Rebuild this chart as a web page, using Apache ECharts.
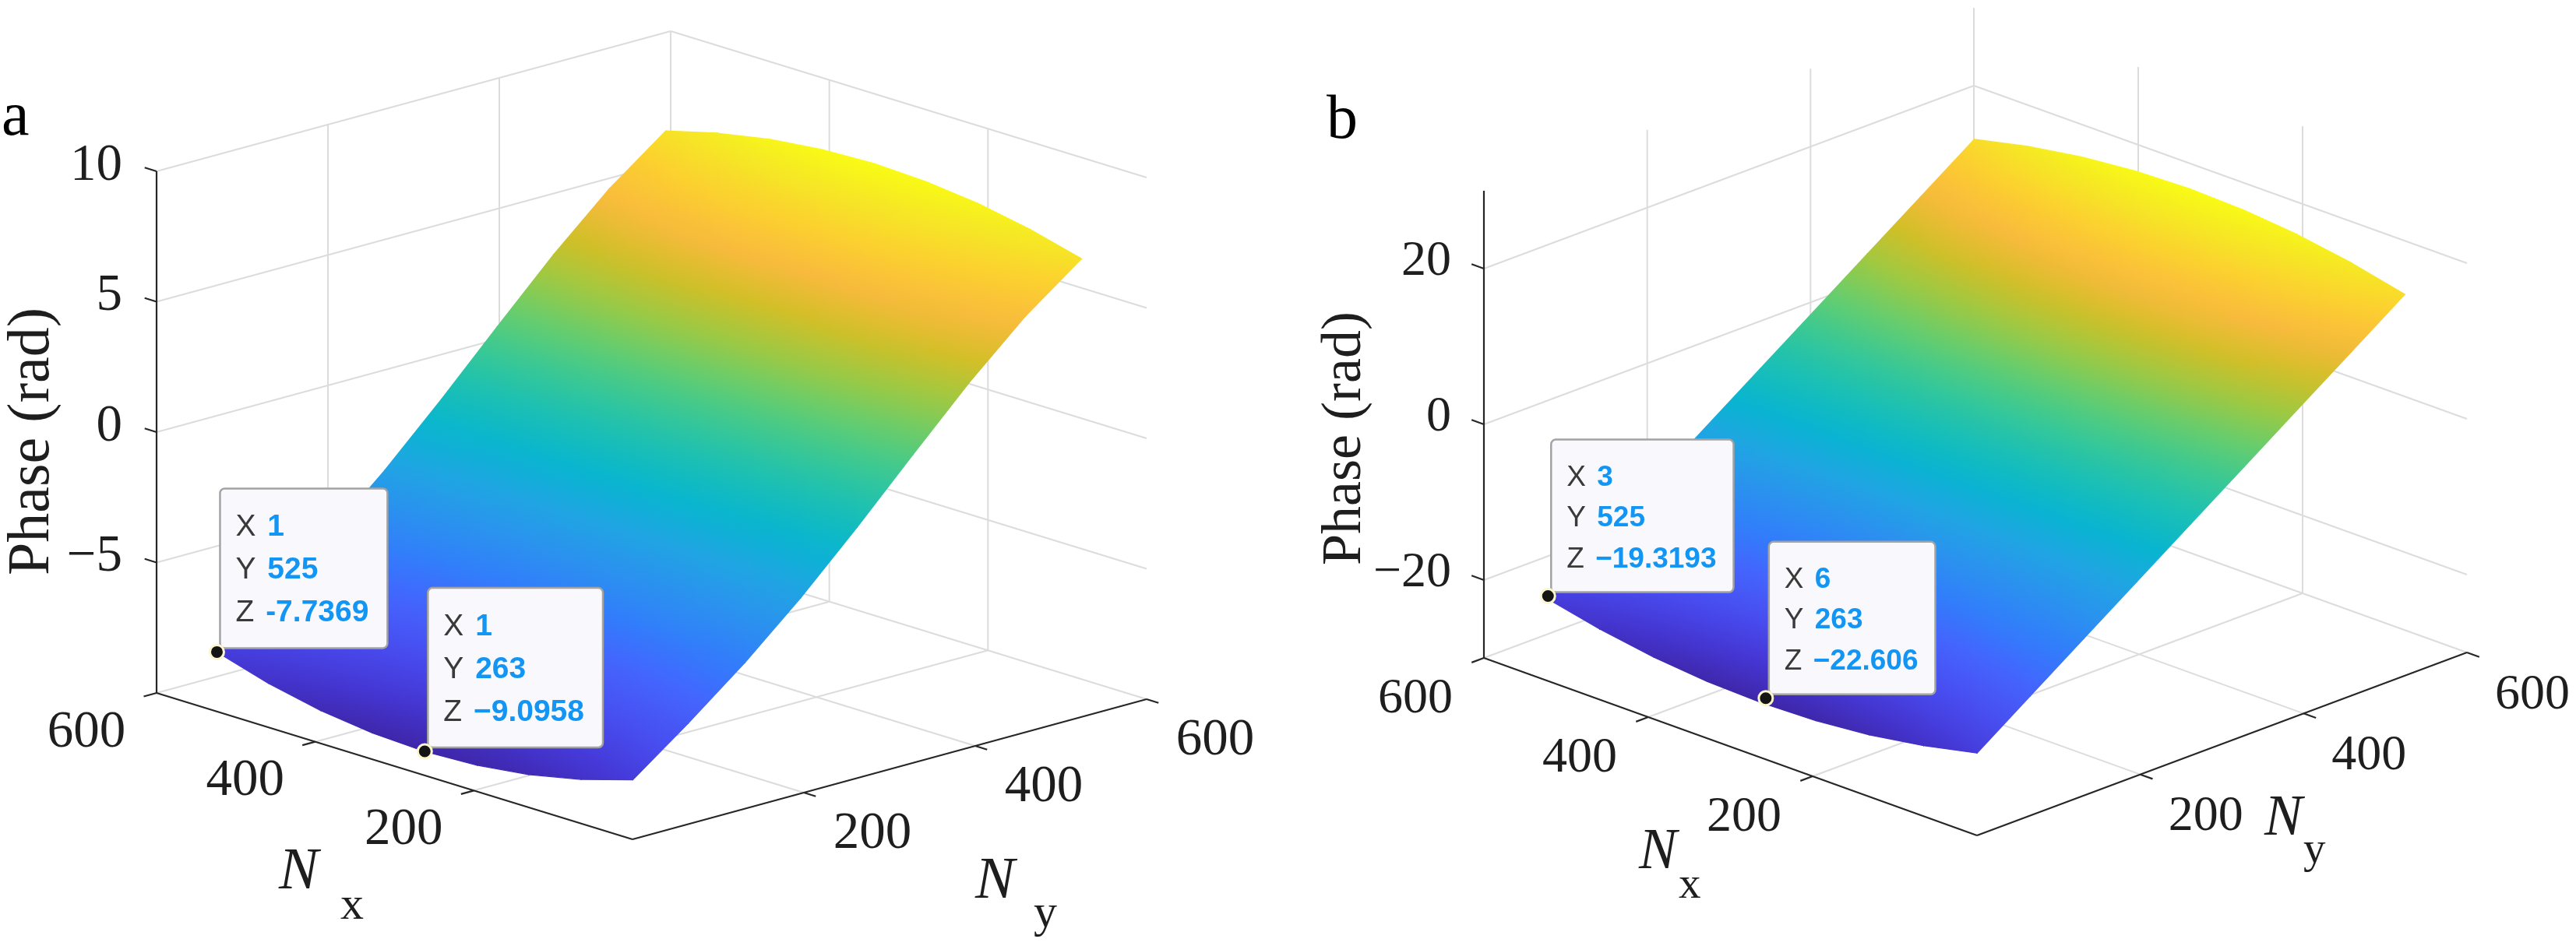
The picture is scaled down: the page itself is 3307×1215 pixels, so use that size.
<!DOCTYPE html>
<html>
<head>
<meta charset="utf-8">
<script src="https://cdn.jsdelivr.net/npm/echarts@6/dist/echarts.min.js"></script>
<style>
html,body{margin:0;padding:0;background:#ffffff;}
#chart{width:3307px;height:1215px;}
</style>
</head>
<body>
<div id="chart"></div>
<script>
// ===================== DATA =====================
// sample positions of the surface grid
const nxGrid = [1, 66, 132, 197, 263, 329, 394, 460, 525];
const nyGrid = [1, 66, 132, 197, 263, 328, 394, 459, 525];
// phase values, row j -> nyGrid[j], column i -> nxGrid[i]
const phaseA = [
  [-7.74, -8.33, -8.76, -9.01, -9.10, -9.01, -8.76, -8.33, -7.74],
  [-6.15, -6.60, -6.93, -7.12, -7.19, -7.12, -6.93, -6.60, -6.15],
  [-4.42, -4.73, -4.96, -5.09, -5.14, -5.09, -4.96, -4.73, -4.42],
  [-2.52, -2.69, -2.82, -2.90, -2.92, -2.90, -2.82, -2.69, -2.52],
  [-0.40, -0.44, -0.46, -0.48, -0.48, -0.48, -0.46, -0.44, -0.40],
  [ 1.80,  1.90,  1.98,  2.03,  2.04,  2.03,  1.98,  1.90,  1.80],
  [ 3.98,  4.22,  4.40,  4.50,  4.54,  4.50,  4.40,  4.22,  3.98],
  [ 5.92,  6.30,  6.58,  6.74,  6.80,  6.74,  6.58,  6.30,  5.92],
  [ 7.55,  8.07,  8.45,  8.67,  8.75,  8.67,  8.45,  8.07,  7.55]
];
const phaseB = [
  [-19.50, -21.02, -22.13, -22.78, -23.00, -22.78, -22.13, -21.02, -19.50],
  [-14.74, -15.88, -16.71, -17.19, -17.36, -17.19, -16.71, -15.88, -14.74],
  [ -9.90, -10.65, -11.20, -11.52, -11.63, -11.52, -11.20, -10.65,  -9.90],
  [ -5.14,  -5.51,  -5.77,  -5.93,  -5.98,  -5.93,  -5.77,  -5.51,  -5.14],
  [ -0.30,  -0.28,  -0.26,  -0.25,  -0.25,  -0.25,  -0.26,  -0.28,  -0.30],
  [  4.46,   4.86,   5.16,   5.33,   5.39,   5.33,   5.16,   4.86,   4.46],
  [  9.30,  10.10,  10.67,  11.01,  11.13,  11.01,  10.67,  10.10,   9.30],
  [ 14.06,  15.24,  16.09,  16.60,  16.77,  16.60,  16.09,  15.24,  14.06],
  [ 18.90,  20.46,  21.60,  22.27,  22.50,  22.27,  21.60,  20.46,  18.90]
];
// tick labels
const nxTicks = [200, 400, 600];
const nyTicks = [200, 400, 600];
const zTicksA = [-5, 0, 5, 10];
const zTicksB = [-20, 0, 20];
// data tips (X = Ny column, Y = Nx row, Z = phase)
const tipXA = [1, 1];
const tipYA = [525, 263];
const tipZA = [-7.7369, -9.0958];
const tipZTextA = ['-7.7369', '\u22129.0958'];
const tipXB = [3, 6];
const tipYB = [525, 263];
const tipZB = [-19.3193, -22.606];
const tipZTextB = ['\u221219.3193', '\u221222.606'];

// parula colormap stops
const parulaStops = ['#3e26a8','#4537d5','#484df0','#4563fd','#327cfc','#2b91ef','#20a5e3','#08b5d0',
  '#19bfb6','#37c897','#64cd6f','#9dc943','#d1bf27','#f8ba3d','#fccf30','#f5e924','#f9fb15'];

// ===================== LAYOUT / STYLE =====================
const SERIF = 'Liberation Serif';
const SANS = 'Liberation Sans';
const GRID_COLOR = '#dcdcdc', GRID_W = 2;
const AXIS_COLOR = '#262626', AXIS_W = 2.2;
const TEXT_COLOR = '#1e1e1e';

// projection: screen vectors (x right, y up) spanned by the full Nx, Ny and z ranges
const panels = [
  {
    letter: 'a', phase: phaseA, zTicks: zTicksA, zLim: [-10, 10], nxLim: [0, 600], nyLim: [0, 600],
    tipX: tipXA, tipY: tipYA, tipZ: tipZA, tipZText: tipZTextA,
    vNx: [-611, 188], vNy: [660, 180], vZ: 670,
    origin: [812, 1078], sxRange: [-800, 900], syRange: [-136, 1075],
    tickFont: 67, zLabOff: [-44, -7], nxLabOff: [-90, 51], nyLabOff: [88, 53],
    nFont: 76, subFont: 60,
    nxName: { n: [-148.5, 162], s: [-69.5, 198] }, nyName: { n: [110, 170], s: [185, 204] },
    phaseFont: 76, phaseOff: [-159, 12],
    letterPos: [2, 179], letterFont: 80,
    tipFont: 39, tipLine: 55, tipTop: 50, tipH: 205, tipPadL: 20, tipPadR: 24, tipGap: 4
  },
  {
    letter: 'b', phase: phaseB, zTicks: zTicksB, zLim: [-30, 30], nxLim: [0, 600], nyLim: [0, 600],
    tipX: tipXB, tipY: tipYB, tipZ: tipZB, tipZText: tipZTextB,
    vNx: [-633, 228], vNy: [629, 235], vZ: 600,
    origin: [2538, 1073], sxRange: [-800, 769], syRange: [-142, 1069],
    tickFont: 64, zLabOff: [-42, -9], nxLabOff: [-88, 53], nyLabOff: [84, 55],
    nFont: 73, subFont: 57,
    nxName: { n: [-117.5, 161], s: [-66.5, 196] }, nyName: { n: [54.5, 121.5], s: [104.5, 154.5] },
    phaseFont: 72, phaseOff: [-178, 18],
    letterPos: [1703, 183], letterFont: 80,
    tipFont: 37, tipLine: 52.5, tipTop: 49, tipH: 196, tipPadL: 20, tipPadR: 22, tipGap: 4
  }
];

// ===================== HELPERS =====================
function hexToRgb(h) { return [parseInt(h.substr(1,2),16), parseInt(h.substr(3,2),16), parseInt(h.substr(5,2),16)]; }
const parulaRgb = parulaStops.map(hexToRgb);
const parulaPos = parulaStops.map((_, k) => k === parulaStops.length - 1 ? 1 : (4 * k) / 63);
function parula(t) {
  t = Math.max(0, Math.min(1, t));
  let k = 0;
  while (k < parulaPos.length - 2 && t > parulaPos[k + 1]) k++;
  const f = (t - parulaPos[k]) / (parulaPos[k + 1] - parulaPos[k]);
  const a = parulaRgb[k], b = parulaRgb[k + 1];
  return 'rgb(' + Math.round(a[0] + (b[0]-a[0])*f) + ',' + Math.round(a[1] + (b[1]-a[1])*f) + ',' + Math.round(a[2] + (b[2]-a[2])*f) + ')';
}
function project(cfg, nx, ny, z) {
  const X = (ny - cfg.nyLim[0]) / (cfg.nyLim[1] - cfg.nyLim[0]);
  const Y = (nx - cfg.nxLim[0]) / (cfg.nxLim[1] - cfg.nxLim[0]);
  const Z = (z - cfg.zLim[0]) / (cfg.zLim[1] - cfg.zLim[0]);
  return [X * cfg.vNy[0] + Y * cfg.vNx[0], X * cfg.vNy[1] + Y * cfg.vNx[1] + Z * cfg.vZ];
}
function fmt(v) { return v < 0 ? '\u2212' + Math.abs(v) : String(v); }
const measureCtx = document.createElement('canvas').getContext('2d');
function textW(str, size, family, weight) {
  measureCtx.font = (weight || 'normal') + ' ' + size + 'px "' + family + '"';
  return measureCtx.measureText(str).width;
}

function triFill(p, zv, cmin, cmax) {
  const norm = v => (v - cmin) / (cmax - cmin);
  const ax = p[1][0]-p[0][0], ay = p[1][1]-p[0][1];
  const bx = p[2][0]-p[0][0], by = p[2][1]-p[0][1];
  const dz1 = zv[1]-zv[0], dz2 = zv[2]-zv[0];
  const det = ax*by - ay*bx;
  const zlo = Math.min(zv[0], zv[1], zv[2]), zhi = Math.max(zv[0], zv[1], zv[2]);
  if (Math.abs(det) < 1e-9 || zhi - zlo < 1e-9) return parula(norm((zlo+zhi)/2));
  const gx = (dz1*by - dz2*ay) / det;
  const gy = (ax*dz2 - bx*dz1) / det;
  const g2 = gx*gx + gy*gy;
  if (g2 < 1e-14) return parula(norm((zlo+zhi)/2));
  const s = (zlo - zv[0]) / g2, e = (zhi - zv[0]) / g2;
  const stops = [0, 0.25, 0.5, 0.75, 1].map(f => ({ offset: f, color: parula(norm(zlo + f*(zhi - zlo))) }));
  return new echarts.graphic.LinearGradient(p[0][0] + gx*s, p[0][1] + gy*s, p[0][0] + gx*e, p[0][1] + gy*e, stops, true);
}

panels.forEach(cfg => {
  let mn = Infinity, mx = -Infinity;
  cfg.phase.forEach(r => r.forEach(v => { mn = Math.min(mn, v); mx = Math.max(mx, v); }));
  cfg.cmin = mn; cfg.cmax = mx;
});

// ===================== RENDERERS =====================
function lineEl(a, b, color, w) {
  return { type: 'line', shape: { x1: a[0], y1: a[1], x2: b[0], y2: b[1] }, style: { stroke: color, lineWidth: w, lineCap: 'butt' } };
}
function textEl(str, x, y, f, align, color) {
  return { type: 'text', style: { text: str, x: x, y: y, fontSize: f.size, fontFamily: f.family,
    fontStyle: f.style || 'normal', fontWeight: f.weight || 'normal', fill: color || TEXT_COLOR, align: align, verticalAlign: 'middle' } };
}

function renderWalls(cfg, api) {
  const P = (nx, ny, z) => api.coord(project(cfg, nx, ny, z));
  const [nx0, nx1] = cfg.nxLim, [ny0, ny1] = cfg.nyLim, [z0, z1] = cfg.zLim;
  const ch = [];
  nxTicks.forEach(nx => ch.push(lineEl(P(nx, ny0, z0), P(nx, ny1, z0), GRID_COLOR, GRID_W)));
  nyTicks.forEach(ny => ch.push(lineEl(P(nx0, ny, z0), P(nx1, ny, z0), GRID_COLOR, GRID_W)));
  nyTicks.forEach(ny => ch.push(lineEl(P(nx1, ny, z0), P(nx1, ny, z1), GRID_COLOR, GRID_W)));
  cfg.zTicks.forEach(z => ch.push(lineEl(P(nx1, ny0, z), P(nx1, ny1, z), GRID_COLOR, GRID_W)));
  nxTicks.forEach(nx => ch.push(lineEl(P(nx, ny1, z0), P(nx, ny1, z1), GRID_COLOR, GRID_W)));
  cfg.zTicks.forEach(z => ch.push(lineEl(P(nx0, ny1, z), P(nx1, ny1, z), GRID_COLOR, GRID_W)));
  return { type: 'group', children: ch };
}

function renderAxes(cfg, api) {
  const P = (nx, ny, z) => api.coord(project(cfg, nx, ny, z));
  const [nx0, nx1] = cfg.nxLim, [ny0, ny1] = cfg.nyLim, [z0, z1] = cfg.zLim;
  const tnx = 0.025 * (nx1 - nx0), tny = 0.025 * (ny1 - ny0);
  const ch = [];
  const tickF = { size: cfg.tickFont, family: SERIF };
  // axis lines
  ch.push(lineEl(P(nx1, ny0, z0), P(nx1, ny0, z1), AXIS_COLOR, AXIS_W));
  ch.push(lineEl(P(nx1, ny0, z0), P(nx0, ny0, z0), AXIS_COLOR, AXIS_W));
  ch.push(lineEl(P(nx0, ny0, z0), P(nx0, ny1, z0), AXIS_COLOR, AXIS_W));
  // z ticks + labels
  cfg.zTicks.forEach(z => {
    const a = P(nx1, ny0, z);
    ch.push(lineEl(a, P(nx1 + tnx, ny0, z), AXIS_COLOR, AXIS_W));
    ch.push(textEl(fmt(z), a[0] + cfg.zLabOff[0], a[1] + cfg.zLabOff[1], tickF, 'right'));
  });
  // Nx ticks + labels
  nxTicks.forEach(nx => {
    const a = P(nx, ny0, z0);
    ch.push(lineEl(a, P(nx, ny0 - tny, z0), AXIS_COLOR, AXIS_W));
    ch.push(textEl(fmt(nx), a[0] + cfg.nxLabOff[0], a[1] + cfg.nxLabOff[1], tickF, 'center'));
  });
  // Ny ticks + labels
  nyTicks.forEach(ny => {
    const a = P(nx0, ny, z0);
    ch.push(lineEl(a, P(nx0 - tnx, ny, z0), AXIS_COLOR, AXIS_W));
    ch.push(textEl(fmt(ny), a[0] + cfg.nyLabOff[0], a[1] + cfg.nyLabOff[1], tickF, 'center'));
  });
  // axis names
  const nF = { size: cfg.nFont, family: SERIF, style: 'italic' }, sF = { size: cfg.subFont, family: SERIF };
  const mx = P((nx0 + nx1) / 2, ny0, z0), my = P(nx0, (ny0 + ny1) / 2, z0);
  ch.push(textEl('N', mx[0] + cfg.nxName.n[0], mx[1] + cfg.nxName.n[1] - 0.33 * cfg.nFont, nF, 'left'));
  ch.push(textEl('x', mx[0] + cfg.nxName.s[0], mx[1] + cfg.nxName.s[1] - 0.30 * cfg.subFont, sF, 'left'));
  ch.push(textEl('N', my[0] + cfg.nyName.n[0], my[1] + cfg.nyName.n[1] - 0.33 * cfg.nFont, nF, 'left'));
  ch.push(textEl('y', my[0] + cfg.nyName.s[0], my[1] + cfg.nyName.s[1] - 0.30 * cfg.subFont, sF, 'left'));
  const mz = P(nx1, ny0, (z0 + z1) / 2);
  ch.push({ type: 'text', x: mz[0] + cfg.phaseOff[0], y: mz[1] + cfg.phaseOff[1], rotation: Math.PI / 2,
    style: { text: 'Phase (rad)', x: 0, y: 0, fontSize: cfg.phaseFont, fontFamily: SERIF, fill: TEXT_COLOR, align: 'center', verticalAlign: 'middle' } });
  // panel letter
  ch.push(textEl(cfg.letter, cfg.letterPos[0], cfg.letterPos[1] - 0.3375 * cfg.letterFont, { size: cfg.letterFont, family: SERIF }, 'left', '#000'));
  return { type: 'group', children: ch };
}

function renderTriangle(cfg, api) {
  const i = api.value(0), j = api.value(1), t = api.value(2);
  const Z = cfg.phase;
  const corners = t === 0 ? [[i, j], [i + 1, j], [i + 1, j + 1]] : [[i, j], [i + 1, j + 1], [i, j + 1]];
  const pts = corners.map(c => api.coord(project(cfg, nxGrid[c[0]], nyGrid[c[1]], Z[c[1]][c[0]])));
  const zv = corners.map(c => Z[c[1]][c[0]]);
  const fill = triFill(pts, zv, cfg.cmin, cfg.cmax);
  return { type: 'polygon', shape: { points: pts }, style: { fill: fill, stroke: fill, lineWidth: 1.3, lineJoin: 'round' } };
}

function renderTip(cfg, api) {
  const k = api.value(0);
  const p = api.coord(project(cfg, cfg.tipY[k], cfg.tipX[k], cfg.tipZ[k]));
  const fs = cfg.tipFont;
  const kF = { size: fs, family: SANS }, vF = { size: fs, family: SANS, weight: 'bold' };
  const rows = [['X', String(cfg.tipX[k])], ['Y', String(cfg.tipY[k])], ['Z', cfg.tipZText[k]]];
  let w = 0;
  rows.forEach(r => { w = Math.max(w, textW(r[0] + ' ', fs, SANS) + cfg.tipGap + textW(r[1], fs, SANS, 'bold')); });
  const bw = w + cfg.tipPadL + cfg.tipPadR, bh = cfg.tipH;
  const bx = p[0] + 4, by = p[1] - 5 - bh;
  const ch = [];
  ch.push({ type: 'rect', shape: { x: bx, y: by, width: bw, height: bh, r: 6 }, style: { fill: '#f9f9fd', stroke: '#a3a3a3', lineWidth: 2.5 } });
  rows.forEach((r, n) => {
    const ty = by + cfg.tipTop + n * cfg.tipLine;
    const tx = bx + cfg.tipPadL;
    ch.push(textEl(r[0], tx, ty, kF, 'left', '#3a3a3a'));
    ch.push(textEl(r[1], tx + textW(r[0] + ' ', fs, SANS) + cfg.tipGap, ty, vF, 'left', '#1295f3'));
  });
  ch.push({ type: 'circle', shape: { cx: p[0], cy: p[1], r: 9 }, style: { fill: '#141414', stroke: '#fbf6cf', lineWidth: 3 } });
  return { type: 'group', children: ch };
}

// ===================== OPTION =====================
const grids = [], xAxes = [], yAxes = [], series = [];
panels.forEach((cfg, k) => {
  grids.push({ show: false, left: cfg.origin[0] + cfg.sxRange[0], top: cfg.origin[1] - cfg.syRange[1],
    width: cfg.sxRange[1] - cfg.sxRange[0], height: cfg.syRange[1] - cfg.syRange[0] });
  xAxes.push({ gridIndex: k, type: 'value', min: cfg.sxRange[0], max: cfg.sxRange[1], show: false });
  yAxes.push({ gridIndex: k, type: 'value', min: cfg.syRange[0], max: cfg.syRange[1], show: false });
  const base = { type: 'custom', coordinateSystem: 'cartesian2d', xAxisIndex: k, yAxisIndex: k, silent: true, animation: false, clip: false };
  series.push(Object.assign({}, base, { name: 'walls-' + cfg.letter, z: 1, data: [[0, 0]], renderItem: (p, api) => renderWalls(cfg, api) }));
  const tris = [];
  for (let j = nyGrid.length - 2; j >= 0; j--)
    for (let i = nxGrid.length - 2; i >= 0; i--) { tris.push([i, j, 1]); tris.push([i, j, 0]); }
  series.push(Object.assign({}, base, { name: 'surface-' + cfg.letter, z: 2, data: tris, renderItem: (p, api) => renderTriangle(cfg, api) }));
  series.push(Object.assign({}, base, { name: 'axes-' + cfg.letter, z: 3, data: [[0, 0]], renderItem: (p, api) => renderAxes(cfg, api) }));
  series.push(Object.assign({}, base, { name: 'tips-' + cfg.letter, z: 4, data: cfg.tipX.map((_, n) => [n, 0]), renderItem: (p, api) => renderTip(cfg, api) }));
});

const chart = echarts.init(document.getElementById('chart'), null, { renderer: 'canvas' });
chart.setOption({
  backgroundColor: '#ffffff',
  animation: false,
  textStyle: { fontFamily: SERIF },
  grid: grids,
  xAxis: xAxes,
  yAxis: yAxes,
  series: series
});
</script>
</body>
</html>
